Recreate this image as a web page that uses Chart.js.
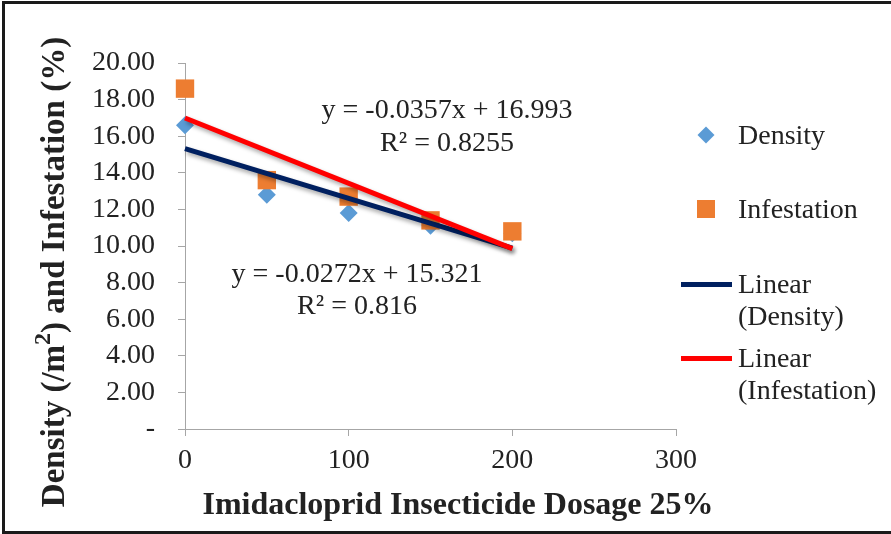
<!DOCTYPE html>
<html>
<head>
<meta charset="utf-8">
<script src="https://cdn.jsdelivr.net/npm/chart.js@4.4.1/dist/chart.umd.min.js"></script>
<style>
  html, body { margin: 0; padding: 0; background: #fff; }
  #wrap { position: relative; width: 891px; height: 534px; overflow: hidden; font-family: "Liberation Serif", "Times New Roman", serif; color: #222; }
  #chart { position: absolute; left: 0; top: 0; }
  #frame { position: absolute; left: 2px; top: 1px; width: 1000px; height: 527px; border: 3px solid #1a1a1a; border-right: none; }
  .note { position: absolute; font-size: 28px; white-space: nowrap; transform: translate(-50%, -50%); line-height: 1; }
  .lg { position: absolute; font-size: 28px; line-height: 32px; white-space: nowrap; }
  .mk { position: absolute; }
  .ttl { position: absolute; font-size: 33px; font-weight: bold; white-space: nowrap; line-height: 1; }
  .ttl sup { font-size: 24px; line-height: 0; vertical-align: 0.55em; }
</style>
</head>
<body>
<div id="wrap">
  <canvas id="chart" width="891" height="534"></canvas>
  <div id="frame"></div>

  <div class="ttl" style="left:458px; top:503px; font-size:32px; transform:translate(-50%, -50%);">Imidacloprid Insecticide Dosage 25%</div>
  <div class="ttl" style="left:53px; top:272px; transform:translate(-50%, -50%) rotate(-90deg);">Density (/m<sup>2</sup>) and Infestation (%)</div>

  <div class="note" style="left:447px; top:109px;">y = -0.0357x + 16.993</div>
  <div class="note" style="left:447px; top:142px;">R² = 0.8255</div>
  <div class="note" style="left:357px; top:273px;">y = -0.0272x + 15.321</div>
  <div class="note" style="left:357px; top:305px;">R² = 0.816</div>

  <div class="mk" style="left:700px; top:129px; width:12px; height:12px; background:#5B9BD5; transform:rotate(45deg);"></div>
  <div class="lg" style="left:738px; top:119px;">Density</div>
  <div class="mk" style="left:697px; top:200px; width:18px; height:18px; background:#ED7D31;"></div>
  <div class="lg" style="left:738px; top:193px;">Infestation</div>
  <div class="mk" style="left:681px; top:282px; width:51px; height:5px; background:#002060;"></div>
  <div class="lg" style="left:738px; top:268px;">Linear<br>(Density)</div>
  <div class="mk" style="left:681px; top:356px; width:51px; height:5px; background:#FF0000;"></div>
  <div class="lg" style="left:738px; top:342px;">Linear<br>(Infestation)</div>
</div>

<script>
// dosage of imidacloprid (x) and the two measured series
var dosage = [0, 50, 100, 150, 200];
var density = [16.6, 12.8, 11.8, 11.1, 10.7];
var infestation = [18.6, 13.6, 12.7, 11.4, 10.8];

// trend lines as printed on the chart: [density, infestation]
var fitSlope = [-0.0272, -0.0357];
var fitIntercept = [15.321, 16.993];
var fitRange = [0, 200];

var xTicks = [0, 100, 200, 300];
var yTicks = [0, 2, 4, 6, 8, 10, 12, 14, 16, 18, 20];

function points(xs, ys) {
    return xs.map(function(x, i) { return {x: x, y: ys[i]}; });
}
function trend(k) {
    return fitRange.map(function(x) { return {x: x, y: fitSlope[k] * x + fitIntercept[k]}; });
}

var serif = "'Liberation Serif', 'Times New Roman', serif";
var axisGrey = '#a6a6a6';

// excel style shadow under the trend lines
var lineShadow = {
    id: 'lineShadow',
    beforeDatasetDraw: function(chart, args) {
        if (chart.data.datasets[args.index].showLine) {
            var ctx = chart.ctx;
            ctx.save();
            ctx.shadowColor = 'rgba(0,0,0,0.35)';
            ctx.shadowBlur = 4;
            ctx.shadowOffsetX = 2;
            ctx.shadowOffsetY = 3;
        }
    },
    afterDatasetDraw: function(chart, args) {
        if (chart.data.datasets[args.index].showLine) {
            chart.ctx.restore();
        }
    }
};

var ctx = document.getElementById('chart').getContext('2d');
var myChart = new Chart(ctx, {
    type: 'scatter',
    data: {
        datasets: [{
            label: 'Density',
            data: points(dosage, density),
            pointStyle: 'rectRot',
            pointRadius: 9,
            pointHoverRadius: 9,
            backgroundColor: '#5B9BD5',
            borderColor: '#5B9BD5',
            borderWidth: 0,
            clip: false,
            order: 4
        }, {
            label: 'Infestation',
            data: points(dosage, infestation),
            pointStyle: 'rect',
            pointRadius: 13,
            pointHoverRadius: 13,
            backgroundColor: '#ED7D31',
            borderColor: '#ED7D31',
            borderWidth: 0,
            clip: false,
            order: 3
        }, {
            label: 'Linear (Density)',
            data: trend(0),
            showLine: true,
            pointRadius: 0,
            borderColor: '#002060',
            borderWidth: 5,
            clip: false,
            order: 2
        }, {
            label: 'Linear (Infestation)',
            data: trend(1),
            showLine: true,
            pointRadius: 0,
            borderColor: '#FF0000',
            borderWidth: 5,
            clip: false,
            order: 1
        }]
    },
    options: {
        responsive: false,
        animation: false,
        layout: { padding: { top: 63, right: 215, left: 0, bottom: 0 } },
        plugins: {
            legend: { display: false },
            tooltip: { enabled: false }
        },
        scales: {
            x: {
                type: 'linear',
                min: 0,
                max: 300,
                afterBuildTicks: function(scale) {
                    scale.ticks = xTicks.map(function(v) { return {value: v}; });
                },
                ticks: { color: '#222', padding: 8, font: { family: serif, size: 28 } },
                grid: { drawOnChartArea: false, drawTicks: true, tickLength: 7, color: axisGrey },
                border: { color: axisGrey },
                afterFit: function(scale) { scale.height = 105; }
            },
            y: {
                min: 0,
                max: 20,
                afterBuildTicks: function(scale) {
                    scale.ticks = yTicks.map(function(v) { return {value: v}; });
                },
                ticks: {
                    color: '#222',
                    padding: 23,
                    font: { family: serif, size: 28 },
                    callback: function(v) { return v === 0 ? '-' : v.toFixed(2); }
                },
                grid: { drawOnChartArea: false, drawTicks: true, tickLength: 7, color: axisGrey },
                border: { color: axisGrey },
                afterFit: function(scale) { scale.width = 185; }
            }
        }
    },
    plugins: [lineShadow]
});
</script>
</body>
</html>
